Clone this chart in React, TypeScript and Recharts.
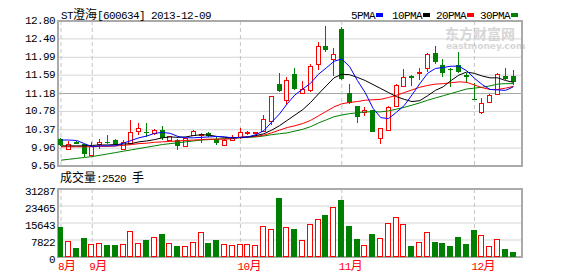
import { ComposedChart, Bar, Line, XAxis, YAxis, CartesianGrid, ReferenceArea } from 'recharts';

const RED = '#ff0000';
const GREEN = '#008000';
const BLUE = '#0000ff';
const GRID = '#d4d4d4';
const BORDER = '#aaaaaa';
const MONO = '"Liberation Mono", "DejaVu Sans Mono", monospace';
const CJK = '"Noto Sans CJK SC", sans-serif';

// daily candles, 2013-08-27 .. 2013-12-09
const opens = [10.17, 9.95, 10.10, 10.05, 9.81, 10.05, 10.10, 10.14, 9.93, 10.08, 10.35, 10.32, 10.30, 10.36, 10.14, 10.15, 10.01, 10.25, 10.26, 10.29, 10.16, 10.02, 10.15, 10.20, 10.29, 10.29, 10.34, 10.56, 11.39, 11.03, 11.61, 11.20, 11.25, 11.83, 12.24, 11.94, 12.62, 11.19, 10.90, 10.77, 10.81, 10.19, 10.36, 10.90, 11.35, 11.57, 11.63, 11.74, 12.09, 11.82, 11.72, 11.82, 11.59, 11.06, 10.77, 10.99, 11.17, 11.57, 11.57];
const closes = [10.02, 10.06, 10.06, 9.82, 10.00, 10.10, 10.08, 10.06, 10.10, 10.31, 10.40, 10.30, 10.36, 10.19, 10.22, 10.01, 10.18, 10.34, 10.27, 10.23, 10.08, 10.15, 10.21, 10.31, 10.32, 10.31, 10.62, 11.12, 11.24, 11.48, 11.28, 11.28, 11.79, 12.24, 12.15, 12.06, 11.50, 10.97, 10.66, 10.81, 10.32, 10.42, 10.87, 11.38, 11.54, 11.52, 11.67, 12.06, 11.89, 11.64, 11.70, 11.67, 11.54, 11.05, 10.96, 11.14, 11.61, 11.50, 11.44];
const highs = [10.18, 10.11, 10.12, 10.06, 10.10, 10.17, 10.25, 10.16, 10.14, 10.58, 10.51, 10.51, 10.38, 10.45, 10.24, 10.17, 10.19, 10.36, 10.30, 10.32, 10.21, 10.17, 10.25, 10.42, 10.35, 10.33, 10.71, 11.13, 11.64, 11.55, 11.74, 11.46, 11.85, 12.34, 12.69, 12.19, 12.66, 11.39, 10.91, 10.87, 10.82, 10.42, 10.90, 11.40, 11.72, 11.59, 11.74, 12.08, 12.24, 11.94, 11.74, 12.11, 11.63, 11.42, 11.09, 11.17, 11.63, 11.76, 11.70];
const lows = [10.01, 9.93, 10.05, 9.77, 9.80, 9.93, 10.06, 10.04, 9.91, 10.07, 10.25, 10.21, 10.25, 10.14, 10.12, 9.92, 10.00, 10.24, 10.08, 10.20, 10.02, 10.01, 10.14, 10.17, 10.25, 10.27, 10.33, 10.48, 11.22, 10.92, 11.25, 11.18, 11.22, 11.70, 12.11, 11.57, 11.48, 10.95, 10.51, 10.67, 10.32, 10.06, 10.34, 10.88, 11.33, 11.35, 11.48, 11.67, 11.83, 11.54, 11.33, 11.64, 11.42, 11.03, 10.72, 10.96, 11.15, 11.48, 11.37];
const volumes = [13620, 7180, 4280, 8880, 6120, 6580, 5660, 5660, 6120, 12100, 6580, 7960, 9340, 10720, 6580, 5200, 5100, 7040, 11640, 6580, 7640, 6120, 5660, 6120, 6120, 5660, 14400, 13020, 27280, 13940, 13020, 7960, 15320, 17620, 19460, 23140, 26360, 14400, 8420, 5660, 10720, 8880, 15780, 18540, 15320, 5200, 7040, 11640, 7040, 6580, 5200, 9340, 6120, 12560, 10260, 5200, 8420, 3820, 2520];

// moving averages as drawn
const ma5 = [10.14, 10.14, 10.13, 10.06, 9.99, 10.01, 10.01, 10.01, 10.07, 10.13, 10.19, 10.23, 10.29, 10.31, 10.29, 10.22, 10.19, 10.19, 10.20, 10.21, 10.22, 10.21, 10.19, 10.20, 10.21, 10.26, 10.35, 10.54, 10.72, 10.95, 11.15, 11.28, 11.41, 11.61, 11.75, 11.90, 11.95, 11.78, 11.47, 11.20, 10.85, 10.64, 10.62, 10.76, 10.91, 11.15, 11.40, 11.63, 11.74, 11.76, 11.79, 11.79, 11.69, 11.52, 11.38, 11.27, 11.26, 11.25, 11.33];
const ma10 = [10.01, 10.01, 10.01, 10.01, 10.02, 10.03, 10.03, 10.04, 10.05, 10.06, 10.10, 10.12, 10.15, 10.19, 10.21, 10.20, 10.21, 10.24, 10.26, 10.25, 10.22, 10.20, 10.19, 10.20, 10.21, 10.24, 10.28, 10.36, 10.46, 10.58, 10.70, 10.82, 10.98, 11.17, 11.35, 11.53, 11.61, 11.60, 11.54, 11.47, 11.38, 11.29, 11.20, 11.11, 11.05, 11.00, 11.02, 11.13, 11.25, 11.33, 11.47, 11.59, 11.66, 11.63, 11.57, 11.53, 11.53, 11.47, 11.43];
const ma20 = [9.99, 9.99, 9.99, 9.99, 9.99, 10.00, 10.00, 10.01, 10.02, 10.04, 10.06, 10.07, 10.09, 10.10, 10.11, 10.12, 10.13, 10.14, 10.15, 10.16, 10.16, 10.16, 10.17, 10.20, 10.21, 10.22, 10.25, 10.30, 10.36, 10.42, 10.46, 10.51, 10.58, 10.68, 10.78, 10.88, 10.95, 10.98, 11.00, 11.03, 11.04, 11.05, 11.09, 11.14, 11.20, 11.26, 11.32, 11.36, 11.39, 11.40, 11.42, 11.44, 11.43, 11.37, 11.31, 11.27, 11.27, 11.30, 11.34];
const ma30 = [9.69, 9.71, 9.73, 9.75, 9.77, 9.80, 9.83, 9.86, 9.89, 9.92, 9.95, 9.98, 10.01, 10.04, 10.06, 10.08, 10.10, 10.12, 10.14, 10.15, 10.16, 10.17, 10.18, 10.19, 10.20, 10.21, 10.23, 10.26, 10.28, 10.30, 10.34, 10.38, 10.44, 10.52, 10.59, 10.66, 10.70, 10.73, 10.75, 10.77, 10.77, 10.77, 10.79, 10.83, 10.87, 10.92, 10.97, 11.03, 11.08, 11.13, 11.18, 11.23, 11.28, 11.30, 11.32, 11.35, 11.39, 11.40, 11.40];

const priceTicks = [9.56, 9.96, 10.37, 10.78, 11.18, 11.59, 11.99, 12.40, 12.80];
const volTicks = [0, 7822, 15643, 23465, 31287];
const monthStarts = [0, 4, 23, 36, 53];
const monthLabels = ['8月', '9月', '10月', '11月', '12月'];
const maNames = ['5PMA', '10PMA', '20PMA', '30PMA'];
const maColors = [BLUE, '#000000', RED, GREEN];
const prevClose = 11.18;

const X_DOMAIN: [number, number] = [-0.385, 59.1];

const rows = closes.map((close, i) => ({
  i,
  open: opens[i],
  close,
  high: highs[i],
  low: lows[i],
  range: [lows[i], highs[i]],
  vol: volumes[i],
  ma5: ma5[i],
  ma10: ma10[i],
  ma20: ma20[i],
  ma30: ma30[i],
}));

const isCjk = (ch: string) => /[\u3000-\u9fff\uff00-\uffef]/.test(ch);
const splitRuns = (s: string) => {
  const out: { t: string; cjk: boolean }[] = [];
  for (const ch of s) {
    const c = isCjk(ch);
    if (out.length && out[out.length - 1].cjk === c) out[out.length - 1].t += ch;
    else out.push({ t: ch, cjk: c });
  }
  return out;
};

const Mixed = ({ text }: { text: string }) => (
  <>
    {splitRuns(text).map((r, k) =>
      r.cjk ? (
        <span key={k} style={{ fontFamily: CJK, fontSize: 12 }}>{r.t}</span>
      ) : (
        <span key={k} style={{ fontFamily: MONO, fontSize: 11, letterSpacing: '-0.6px' }}>{r.t}</span>
      )
    )}
  </>
);

const SvgMixed = ({ text }: { text: string }) => (
  <>
    {splitRuns(text).map((r, k) =>
      r.cjk ? (
        <tspan key={k} fontFamily={CJK} fontSize={12}>{r.t}</tspan>
      ) : (
        <tspan key={k} fontFamily={MONO} fontSize={11} letterSpacing={-0.6}>{r.t}</tspan>
      )
    )}
  </>
);

const Candle = (props: any) => {
  const { x, y, width, height, payload } = props;
  const { open, close, high, low } = payload;
  const top0 = Math.min(y, y + height);
  const h = Math.abs(height);
  const span = high - low || 1;
  const py = (v: number) => Math.round(top0 + ((high - v) / span) * h);
  const c = Math.floor(x + width / 2);
  const up = close >= open;
  const color = up ? RED : GREEN;
  const yh = py(high);
  const yl = py(low);
  const bt = py(Math.max(open, close));
  const bb = py(Math.min(open, close));
  if (up) {
    return (
      <g>
        {yh < bt && <line x1={c + 0.5} x2={c + 0.5} y1={yh} y2={bt} stroke={color} />}
        {bb < yl && <line x1={c + 0.5} x2={c + 0.5} y1={bb} y2={yl} stroke={color} />}
        <rect x={c - 1.5} y={bt + 0.5} width={4} height={Math.max(bb - bt, 0)} fill="#fff" stroke={color} />
      </g>
    );
  }
  return (
    <g>
      <line x1={c + 0.5} x2={c + 0.5} y1={yh} y2={yl} stroke={color} />
      <rect x={c - 2} y={bt} width={5} height={Math.max(bb - bt, 1)} fill={color} />
    </g>
  );
};

const VolBar = (props: any) => {
  const { x, y, width, height, payload } = props;
  const c = Math.floor(x + width / 2);
  const top = Math.round(Math.min(y, y + height));
  const bot = Math.round(Math.max(y, y + height));
  if (payload.close >= payload.open) {
    return <rect x={c - 2.5} y={top + 0.5} width={5} height={Math.max(bot - top - 1, 0)} fill="#fff" stroke={RED} />;
  }
  return <rect x={c - 3} y={top} width={6} height={bot - top} fill={GREEN} />;
};

const PriceTick = (p: any) => (
  <text x={p.x} y={p.y} dy={3} textAnchor="end" fontFamily={MONO} fontSize={11} letterSpacing={-0.6} fill="#000">
    {Number(p.payload.value).toFixed(2)}
  </text>
);

const VolTick = (p: any) => (
  <text x={p.x} y={p.y} dy={6} textAnchor="end" fontFamily={MONO} fontSize={11} letterSpacing={-0.6} fill="#000">
    {p.payload.value}
  </text>
);

const MonthTick = (p: any) => (
  <text x={p.x - 3} y={p.y + 13} fill={RED}>
    <SvgMixed text={monthLabels[monthStarts.indexOf(p.payload.value)] ?? ''} />
  </text>
);

export default function App() {
  return (
    <div style={{ position: 'absolute', left: 0, top: 0, width: 578, height: 276, background: '#fff', overflow: 'hidden' }}>
      {/* watermark */}
      <div style={{ position: 'absolute', left: 445, top: 26, color: '#d6d6d6', fontFamily: CJK, fontWeight: 700, fontSize: 14, lineHeight: '14px' }}>
        东方财富网
      </div>
      <div style={{ position: 'absolute', left: 446, top: 42, color: '#d6d6d6', fontFamily: '"DejaVu Sans", sans-serif', fontWeight: 700, fontSize: 9, lineHeight: '9px' }}>
        eastmoney.com
      </div>

      <div style={{ position: 'absolute', left: 0, top: 0 }}>
        <ComposedChart width={578} height={172} data={rows} margin={{ top: 21, right: 56, bottom: 6, left: 0 }}>
          <CartesianGrid vertical={false} stroke={GRID} />
          <CartesianGrid vertical={false} horizontalValues={[prevClose]} stroke="#a8a8a8" />
          <CartesianGrid horizontal={false} verticalValues={monthStarts} stroke="#c4c4c4" strokeDasharray="4 3" />
          <XAxis type="number" dataKey="i" domain={X_DOMAIN} hide allowDataOverflow />
          <YAxis
            domain={[9.56, 12.8]}
            ticks={priceTicks}
            interval={0}
            width={58}
            axisLine={false}
            tickLine={false}
            tickSize={0}
            tickMargin={3}
            tick={PriceTick}
            allowDataOverflow
          />
          <Bar dataKey="range" barSize={7} shape={(p: any) => <Candle {...p} />} isAnimationActive={false} />
          <Line type="linear" dataKey="ma30" stroke={GREEN} strokeWidth={1} dot={false} isAnimationActive={false} />
          <Line type="linear" dataKey="ma20" stroke={RED} strokeWidth={1} dot={false} isAnimationActive={false} />
          <Line type="linear" dataKey="ma10" stroke="#000" strokeWidth={1} dot={false} isAnimationActive={false} />
          <Line type="linear" dataKey="ma5" stroke={BLUE} strokeWidth={1} dot={false} isAnimationActive={false} />
          <ReferenceArea x1={X_DOMAIN[0]} x2={X_DOMAIN[1]} y1={9.56} y2={12.8} fill="none" stroke={BORDER} strokeWidth={2} />
        </ComposedChart>
      </div>

      <div style={{ position: 'absolute', left: 0, top: 170 }}>
        <ComposedChart width={578} height={106} data={rows} margin={{ top: 19, right: 56, bottom: 0, left: 0 }}>
          <CartesianGrid vertical={false} stroke={GRID} />
          <CartesianGrid horizontal={false} verticalValues={monthStarts} stroke="#c4c4c4" strokeDasharray="4 3" />
          <XAxis
            type="number"
            dataKey="i"
            domain={X_DOMAIN}
            ticks={monthStarts}
            interval={0}
            height={19}
            axisLine={false}
            tickLine={false}
            tickSize={0}
            tickMargin={0}
            tick={MonthTick}
            allowDataOverflow
          />
          <YAxis
            domain={[0, 31287]}
            ticks={volTicks}
            interval={0}
            width={58}
            axisLine={false}
            tickLine={false}
            tickSize={0}
            tickMargin={3}
            tick={VolTick}
            allowDataOverflow
          />
          <Bar dataKey="vol" barSize={7} shape={(p: any) => <VolBar {...p} />} isAnimationActive={false} />
          <ReferenceArea x1={X_DOMAIN[0]} x2={X_DOMAIN[1]} y1={0} y2={31287} fill="none" stroke={BORDER} strokeWidth={2} />
        </ComposedChart>
      </div>

      {/* title */}
      <div style={{ position: 'absolute', left: 61, top: 7, lineHeight: '14px', whiteSpace: 'pre', color: '#000' }}>
        <Mixed text="ST澄海[600634] 2013-12-09" />
      </div>

      {/* legend */}
      {maNames.map((n, k) => (
        <div key={n} style={{ position: 'absolute', left: [351, 392, 436, 480][k], top: 7, lineHeight: '14px', whiteSpace: 'pre', color: '#000' }}>
          <Mixed text={n} />
          <span style={{ display: 'inline-block', width: 7, height: 4, background: maColors[k], marginLeft: 1, verticalAlign: 'middle' }} />
        </div>
      ))}

      {/* volume caption */}
      <div style={{ position: 'absolute', left: 60, top: 170, lineHeight: '14px', whiteSpace: 'pre', color: '#000' }}>
        <Mixed text="成交量:2520 手" />
      </div>
    </div>
  );
}
